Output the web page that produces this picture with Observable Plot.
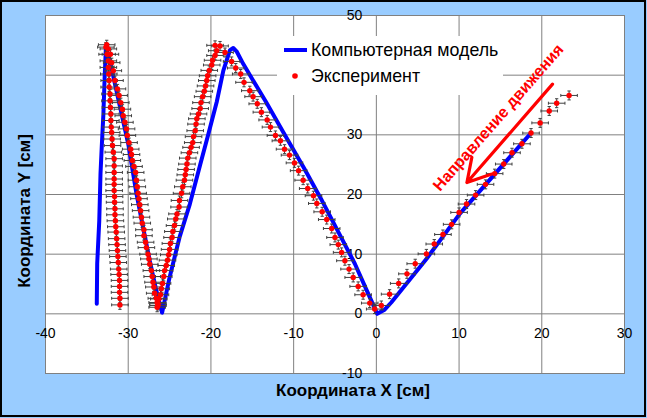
<!DOCTYPE html>
<html><head><meta charset="utf-8">
<script src="https://cdn.jsdelivr.net/npm/d3@7"></script>
<script src="https://cdn.jsdelivr.net/npm/@observablehq/plot@0.6"></script>
<style>
body{margin:0;background:#fff;font-family:"Liberation Sans",Arial,sans-serif;}
#wrap{position:relative;width:647px;height:418px;overflow:hidden;}
#wrap svg{display:block;}
#border{position:absolute;left:0;top:0;width:642px;height:413px;border:2px solid #000;pointer-events:none;}
#legend{position:absolute;left:277px;top:36px;width:226px;height:59px;background:#fff;}
.lg{position:absolute;left:34px;font-size:17.8px;line-height:20px;color:#000;white-space:nowrap;}
.title{position:absolute;font-weight:bold;font-size:17px;line-height:20px;color:#000;text-align:center;white-space:nowrap;width:220px;}
</style></head>
<body><div id="wrap"></div>
<script>
// Axis ticks
const xTicks = [-40, -30, -20, -10, 0, 10, 20, 30];
const yTicks = [-10, 0, 10, 20, 30, 40, 50];
const yTickLabels = [-10, 0, 10, 20, 30, 50]; // "40" hidden behind legend

// Experiment (red points), in order of motion
const expX = [
 23.3,21.8,20.9,19.8,18.7,17.6,16.4,15.4,14.3,13.2,12.0,10.9,10.0,9.1,8.05,7.0,6.05,4.7,3.7,2.7,1.6,0.6,-0.2,
 -0.8,-1.6,-2.2,-2.8,-3.3,-3.8,-4.2,-4.6,-5.0,-5.4,-6.0,-6.55,-7.2,-7.6,-8.3,-8.85,-9.4,-9.9,-10.5,-11.1,-11.6,-12.2,-12.8,-13.2,-13.9,-14.4,-14.9,-15.3,-16.0,-16.4,-17.0,-17.5,-18.3,-18.9,-19.5,
 -19.3,-19.5,-19.8,-19.9,-20.2,-20.4,-20.5,-20.65,-20.8,-21.0,-21.2,-21.3,-21.5,-21.7,-21.8,-21.9,-22.1,-22.2,-22.4,-22.6,-22.8,-22.9,-23.0,-23.1,
 -23.2,-23.4,-23.55,-23.8,-23.85,-24.1,-24.25,-24.4,-24.6,-24.7,-24.9,-25.0,-25.1,-25.25,-25.4,-25.6,-25.7,-25.85,-26.0,-26.1,-26.3,-26.4,-26.5,
 -26.4,-26.5,-26.6,-26.8,-26.9,-27.0,-27.1,-27.2,-27.4,-27.5,-27.6,-27.8,-27.9,-28.1,-28.1,-28.3,-28.4,-28.5,-28.6,-28.7,-28.8,-28.9,-29.0,-29.1,
 -29.3,-29.5,-29.6,-29.7,-29.9,-30.1,-30.2,-30.4,-30.6,-30.7,-30.9,-31.1,-31.3,-31.6,-31.8,-32.0,-32.15,-32.4,-32.6,
 -32.7,-32.55,-32.4,-32.4,-32.35,-32.3,-32.3,-32.2,-32.2,-32.15,-32.1,-32.1,-32.05,-32.0,-31.95,-31.9,-31.8,-31.7,-31.7,-31.7,-31.7,-31.7,-31.7,
 -31.65,-31.65,-31.6,-31.6,-31.55,-31.5,-31.45,-31.4,-31.35,-31.3,-31.25,-31.2,-31.15,-31.1,-31.05,-31.05,-31.05,-31.0,-31.0
];
const expY = [
 36.6,35.3,34.0,32.0,30.3,28.5,27.0,25.1,23.5,21.7,19.9,18.4,17.0,15.0,13.3,11.7,10.05,8.4,6.7,5.1,3.3,1.4,0.8,
 1.8,3.2,4.6,6.1,7.5,8.9,10.3,11.6,12.8,14.3,15.8,17.1,18.5,19.8,21.0,22.4,24.0,25.3,26.6,27.6,29.0,29.9,31.3,32.5,33.8,35.2,36.4,37.4,38.8,40.2,41.2,42.3,43.8,44.9,45.0,
 44.1,43.3,42.5,41.7,40.8,39.9,39.1,38.2,37.3,36.4,35.4,34.4,33.5,32.7,31.8,30.7,29.7,28.7,27.9,27.0,26.1,25.1,24.2,23.3,
 22.4,21.3,20.2,19.0,17.9,16.75,15.9,14.8,13.8,12.8,11.8,10.8,9.9,9.0,8.1,7.25,6.25,5.1,4.2,3.2,2.5,1.7,1.1,
 1.4,1.9,2.6,3.45,4.5,5.3,6.25,7.25,8.3,9.2,10.0,11.1,12.0,13.1,14.1,15.2,16.2,17.3,18.3,19.3,20.2,21.3,22.4,23.7,
 24.7,25.7,26.7,27.6,28.7,29.9,31.0,32.1,33.2,34.3,35.4,36.6,37.7,39.1,40.75,42.1,43.5,44.4,45.1,
 44.7,43.5,42.4,41.3,40.2,39.1,38.0,36.85,35.7,34.6,33.5,32.4,31.3,30.4,29.3,28.2,27.1,26.0,24.8,23.7,22.6,21.7,20.65,
 19.65,18.7,17.6,16.6,15.6,14.6,13.7,12.6,11.6,10.6,9.6,8.6,7.5,6.6,5.6,4.6,3.6,2.6,1.5
];
const errX = 1.0;   // horizontal error, cm
const errY = 0.75;  // vertical error, cm

// Computer model (blue line)
const modelX = [18.7,10.1,6.05,1.8,1.0,0.1,-0.8,-2.6,-4.4,-6.7,-8.7,-11.2,-13.3,-16.1,-16.9,-17.3,-17.7,-18.5,-19.3,-20.3,-21.3,-22.55,-23.8,-25.0,-25.9,-26.6,-27.4,-28.2,-29.0,-30.0,-30.8,-31.6,-32.2,-32.7,-32.85,-33.0,-33.2,-33.35,-33.5,-33.75,-33.8];
const modelY = [30.3,16.8,9.2,1.9,0.7,0.0,2.8,8.4,13.2,19.3,24.3,30.3,35.4,41.9,44.0,44.55,44.2,40.75,35.5,30.2,25.0,18.4,12.8,6.1,0.2,3.9,8.9,14.5,20.1,28.5,33.5,38.5,42.4,44.6,39.6,33.5,28.0,23.45,15.6,8.4,1.7];

// Labels and annotation
const legendLabels = ["Компьютерная модель", "Эксперимент"];
const xTitle = "Координата X [см]";
const yTitle = "Координата Y [см]";
const arrowFrom = [21.3, 38.5];
const arrowTo = [10.95, 22.0];
const annText = "Направление движения";
const annPos = [14.75, 32.9];

const exp = expX.map((x, i) => ({x, y: expY[i]}));
const model = modelX.map((x, i) => ({x, y: modelY[i]}));
const capX = 0.2, capY = 0.25;
const eb = {stroke: "#404040", strokeWidth: 1};

const chart = Plot.plot({
  width: 647, height: 418,
  marginLeft: 45, marginRight: 23, marginTop: 15, marginBottom: 45,
  x: {domain: [-40, 30], axis: null},
  y: {domain: [-10, 50], axis: null},
  style: {background: "#99ccff", fontFamily: "'Liberation Sans', Arial, sans-serif", overflow: "visible"},
  marks: [
    Plot.frame({fill: "white", stroke: "none"}),
    Plot.gridX(xTicks, {stroke: "#808080", strokeOpacity: 1, strokeWidth: 1}),
    Plot.gridY(yTicks, {stroke: "#808080", strokeOpacity: 1, strokeWidth: 1}),
    Plot.frame({stroke: "#808080", strokeWidth: 1}),
    Plot.text(xTicks, {x: d => d, y: 0, dy: 20, text: d => String(d), fontSize: 14, fill: "#000"}),
    Plot.text(yTickLabels, {x: 0, y: d => d, dx: -14, textAnchor: "end", text: d => String(d), fontSize: 14, fill: "#000"}),
    Plot.line(model, {x: "x", y: "y", stroke: "#0000ff", strokeWidth: 4, strokeLinejoin: "round", strokeLinecap: "round"}),
    Plot.link(exp, {x1: d => d.x - errX, x2: d => d.x + errX, y1: "y", y2: "y", ...eb}),
    Plot.link(exp, {x1: d => d.x - errX, x2: d => d.x - errX, y1: d => d.y - capY, y2: d => d.y + capY, ...eb}),
    Plot.link(exp, {x1: d => d.x + errX, x2: d => d.x + errX, y1: d => d.y - capY, y2: d => d.y + capY, ...eb}),
    Plot.link(exp, {x1: "x", x2: "x", y1: d => d.y - errY, y2: d => d.y + errY, ...eb}),
    Plot.link(exp, {x1: d => d.x - capX, x2: d => d.x + capX, y1: d => d.y - errY, y2: d => d.y - errY, ...eb}),
    Plot.link(exp, {x1: d => d.x - capX, x2: d => d.x + capX, y1: d => d.y + errY, y2: d => d.y + errY, ...eb}),
    Plot.dot(exp, {x: "x", y: "y", r: 2.7, fill: "#ff0000", stroke: "none"}),
    Plot.arrow([{}], {x1: () => arrowFrom[0], y1: () => arrowFrom[1], x2: () => arrowTo[0], y2: () => arrowTo[1], stroke: "#ff0000", strokeWidth: 3.2, headLength: 12}),
    Plot.text([annText], {x: () => annPos[0], y: () => annPos[1], text: d => d, rotate: -48.8, fill: "#ff0000", fontWeight: "bold", fontSize: 16})
  ]
});

const wrap = document.getElementById("wrap");
wrap.appendChild(chart);

const legend = document.createElement("div");
legend.id = "legend";
legend.innerHTML =
  `<svg width="226" height="59" style="position:absolute;left:0;top:0">
     <line x1="7" x2="30" y1="14" y2="14" stroke="#0000ff" stroke-width="4"/>
     <circle cx="18" cy="40" r="2.8" fill="#ff0000"/>
   </svg>
   <div class="lg" style="top:4px">${legendLabels[0]}</div>
   <div class="lg" style="top:30px">${legendLabels[1]}</div>`;
wrap.appendChild(legend);

const tx = document.createElement("div");
tx.className = "title";
tx.style.left = (353 - 110) + "px";
tx.style.top = "381px";
tx.textContent = xTitle;
wrap.appendChild(tx);

const ty = document.createElement("div");
ty.className = "title";
ty.style.left = (25 - 110) + "px";
ty.style.top = (211 - 10) + "px";
ty.style.transform = "rotate(-90deg)";
ty.textContent = yTitle;
wrap.appendChild(ty);

const border = document.createElement("div");
border.id = "border";
wrap.appendChild(border);
</script>
</body></html>
